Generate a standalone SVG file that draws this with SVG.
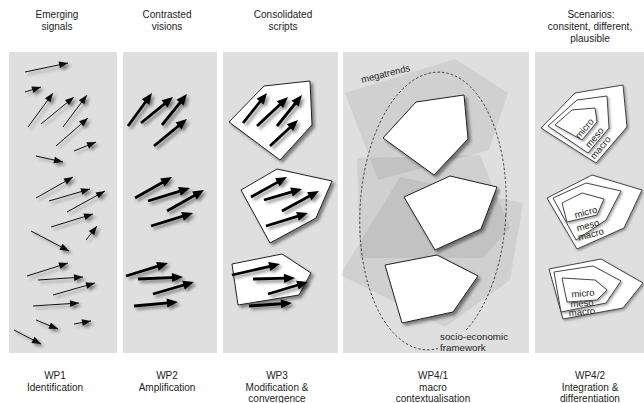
<svg xmlns="http://www.w3.org/2000/svg" width="644" height="403" viewBox="0 0 644 403">
<defs>
<style>
text{font-family:"Liberation Sans",Arial,sans-serif;fill:#222}
.lbl{font-size:10px;text-anchor:middle}
.panel{fill:#dfdfdf}
.thin{stroke:#111;stroke-width:1;fill:none;marker-end:url(#hs)}
.thick{stroke:#000;stroke-width:2.8;fill:none;marker-end:url(#hb)}
.pent{fill:#fff;stroke:#222;stroke-width:1;stroke-linejoin:round}
.npent{fill:#fff;stroke:#333;stroke-width:0.9;stroke-linejoin:round;filter:url(#sh2)}
.zone{fill:#000;fill-opacity:0.065}
.sc{font-size:9.5px;text-anchor:middle}
</style>
<marker id="hs" markerUnits="userSpaceOnUse" markerWidth="10" markerHeight="10" orient="auto" overflow="visible"><path d="M-9,-3.4 L0,0 L-9,3.4 z" fill="#111"/></marker>
<marker id="hb" markerUnits="userSpaceOnUse" markerWidth="12" markerHeight="12" orient="auto" overflow="visible"><path d="M-4,-4.6 L7,0 L-4,4.6 z" fill="#000"/></marker>
<filter id="sh" x="-30%" y="-30%" width="160%" height="160%"><feDropShadow dx="2.5" dy="2.5" stdDeviation="1.5" flood-color="#000" flood-opacity="0.45"/></filter>
<filter id="sh2" x="-30%" y="-30%" width="160%" height="160%"><feDropShadow dx="1.5" dy="1.5" stdDeviation="1" flood-color="#000" flood-opacity="0.35"/></filter>
</defs>
<rect width="644" height="403" fill="#fff"/>

<g id="headers">
<text class="lbl" x="57" y="18">Emerging</text><text class="lbl" x="57" y="30">signals</text>
<text class="lbl" x="167" y="18">Contrasted</text><text class="lbl" x="167" y="30">visions</text>
<text class="lbl" x="283" y="18">Consolidated</text><text class="lbl" x="283" y="30">scripts</text>
<text class="lbl" x="591" y="18">Scenarios:</text><text class="lbl" x="590" y="30">consitent, different,</text><text class="lbl" x="590" y="42">plausible</text>
</g>

<g id="wp1">
<rect class="panel" x="9" y="52" width="108" height="301"/>
<g id="wp1-signals" filter="url(#sh)">
<path class="thin" d="M25,72L68,63"/><path class="thin" d="M25,92L41,87"/><path class="thin" d="M28,127L53,93"/><path class="thin" d="M41,124L74,97"/><path class="thin" d="M63,127L87,95"/><path class="thin" d="M56,146L88,118"/><path class="thin" d="M74,151L96,142"/><path class="thin" d="M36,156L63,162"/><path class="thin" d="M36,198L73,177"/><path class="thin" d="M49,201L90,189"/><path class="thin" d="M67,212L105,191"/><path class="thin" d="M51,227L93,214"/><path class="thin" d="M86,240L97,226"/><path class="thin" d="M31,231L69,251"/><path class="thin" d="M27,276L68,263"/><path class="thin" d="M38,280L83,277"/><path class="thin" d="M53,295L95,283"/><path class="thin" d="M33,306L79,303"/><path class="thin" d="M36,320L58,329"/><path class="thin" d="M74,324L91,321"/><path class="thin" d="M14,330L41,344"/>
</g>
</g>

<g id="wp2">
<rect class="panel" x="123" y="52" width="94" height="301"/>
<g id="wp2-visions" filter="url(#sh)">
<path class="thick" d="M128,126L147.9,98.7"/><path class="thick" d="M141,123L167.6,101.4"/><path class="thick" d="M162,125L182.6,99.5"/><path class="thick" d="M154,146L181.6,123.4"/>
<path class="thick" d="M135,198L165.9,180.5"/><path class="thick" d="M148,201L183.3,190.1"/><path class="thick" d="M167,211L197.9,193.5"/><path class="thick" d="M151,226L186.3,215.1"/>
<path class="thick" d="M126,276L161.3,265.1"/><path class="thick" d="M138,279L176,277.3"/><path class="thick" d="M153,294L187.3,284"/><path class="thick" d="M134,306L171,302.6"/>
</g>
</g>

<g id="wp3">
<rect class="panel" x="223" y="52" width="115" height="301"/>
<g id="wp3-script1">
<polygon class="pent" filter="url(#sh)" points="229,122 264,86 310,81 312,125 280,160"/>
<g filter="url(#sh)"><path class="thick" d="M243,123L262.6,98.5"/><path class="thick" d="M257,126L282.9,101.8"/><path class="thick" d="M277,126L297.6,100.5"/><path class="thick" d="M270,146L292.9,124.8"/></g>
</g>
<g id="wp3-script2">
<polygon class="pent" filter="url(#sh)" points="241,190 277,169 332,181 316,218 270,243"/>
<g filter="url(#sh)"><path class="thick" d="M251,197L280.9,180.4"/><path class="thick" d="M264,200L295.3,190.9"/><path class="thick" d="M282,211L312.8,194.3"/><path class="thick" d="M266,226L301.3,215.1"/></g>
</g>
<g id="wp3-script3">
<polygon class="pent" filter="url(#sh)" points="232,264 282,254 311,273 299,295 238,305"/>
<g filter="url(#sh)"><path class="thick" d="M232,275L273.2,265.6"/><path class="thick" d="M253,279L288,278.2"/><path class="thick" d="M268,294L301.3,284"/><path class="thick" d="M249,306L285,303.5"/></g>
</g>
</g>

<g id="wp4-1">
<rect class="panel" x="343" y="52" width="186" height="301"/>
<polygon class="zone" points="345,93 455,59 508,93 489,150 378,180"/>
<polygon class="zone" points="357,158 480,155 510,228 483,258 360,258"/>
<polygon class="zone" points="340,275 400,177 523,203 510,280 445,327"/>
<ellipse cx="433" cy="211" rx="73" ry="139" transform="rotate(3 433 211)" fill="none" stroke="#333" stroke-width="0.9" stroke-dasharray="2.5,2"/>
<polygon class="pent" filter="url(#sh)" points="383,138 416,102 464,95 468,139 434,175"/>
<polygon class="pent" filter="url(#sh)" points="404,197 450,176 497,187 481,229 435,250"/>
<polygon class="pent" filter="url(#sh)" points="385,265 437,255 478,276 453,312 402,323"/>
<text x="362" y="83" font-size="9.5" transform="rotate(-14 362 83)">megatrends</text>
<rect x="438" y="331" width="76" height="22" fill="#dfdfdf"/>
<text x="440" y="340" font-size="9.8">socio-economic</text>
<text x="440" y="351" font-size="9.8">framework</text>
</g>

<g id="wp4-2">
<rect class="panel" x="535" y="52" width="109" height="301"/>
<g id="scenario1">
<polygon class="npent" points="541,128 575,93 623,85 627,127 596,163"/>
<polygon class="npent" points="548,126 577,100 607,96 609,128 588,153"/>
<polygon class="npent" points="555,125 572,110 595,108 597,122 582,140"/>
<text class="sc" transform="translate(585,129) rotate(-50)" y="2.5">micro</text>
<text class="sc" transform="translate(595,138) rotate(-50)" y="2.5">meso</text>
<text class="sc" transform="translate(601,148) rotate(-50)" y="2.5">macro</text>
</g>
<g id="scenario2">
<polygon class="npent" points="547,198 592,175 642,190 624,228 577,249"/>
<polygon class="npent" points="553,198 586,183 621,191 606,220 576,240"/>
<polygon class="npent" points="562,203 582,193 604,199 597,215 567,222"/>
<text class="sc" transform="translate(586,213) rotate(-15)" y="2.5">micro</text>
<text class="sc" transform="translate(588,226) rotate(-15)" y="2.5">meso</text>
<text class="sc" transform="translate(591,235) rotate(-15)" y="2.5">macro</text>
</g>
<g id="scenario3">
<polygon class="npent" points="549,269 601,259 643,283 623,308 563,319"/>
<polygon class="npent" points="554,272 593,266 621,281 606,303 561,312"/>
<polygon class="npent" points="562,278 595,280 607,290 597,300 567,302"/>
<text class="sc" transform="translate(583,294) rotate(-5)" y="2.5">micro</text>
<text class="sc" transform="translate(582,304) rotate(-5)" y="2.5">meso</text>
<text class="sc" transform="translate(582,312.5) rotate(-5)" y="2.5">macro</text>
</g>
</g>

<g id="footers">
<text class="lbl" x="55" y="379">WP1</text><text class="lbl" x="55" y="391">Identification</text>
<text class="lbl" x="167" y="379">WP2</text><text class="lbl" x="167" y="391">Amplification</text>
<text class="lbl" x="277" y="379">WP3</text><text class="lbl" x="277" y="391">Modification &amp;</text><text class="lbl" x="277" y="402">convergence</text>
<text class="lbl" x="433" y="379">WP4/1</text><text class="lbl" x="433" y="391">macro</text><text class="lbl" x="433" y="402">contextualisation</text>
<text class="lbl" x="590" y="379">WP4/2</text><text class="lbl" x="590" y="391">Integration &amp;</text><text class="lbl" x="590" y="402">differentiation</text>
</g>
</svg>
